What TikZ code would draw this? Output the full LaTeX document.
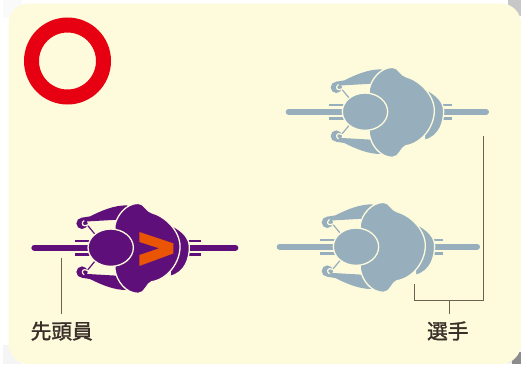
\documentclass[tikz,border=0pt]{standalone}
\usepackage{fontspec}
\newfontfamily\cjk[FakeBold=1.5]{Noto Sans CJK JP}
\definecolor{card}{HTML}{FEFBDC}
\definecolor{ringred}{HTML}{E60012}
\definecolor{ridp}{HTML}{5F0F7A}
\definecolor{ridg}{HTML}{97AEBC}
\definecolor{chev}{HTML}{E95504}
\definecolor{leader}{HTML}{6B6350}
\definecolor{txt}{HTML}{3A2E28}
\tikzset{
  leaderline/.style={draw=leader,line width=0.9pt},
  lbl/.style={font=\cjk\fontsize{20.7}{22}\selectfont,text=txt,inner sep=0pt},
  partw/.style={fill=#1,draw=card,line width=1.3pt,line join=round},
  rider/.pic={
    \begin{scope}[x=0.3333pt,y=-0.3333pt]
    \draw[line width=6pt,line cap=round,draw=\ridcol] (-229,0)--(\barR,0);
    \draw[line width=2.6pt,draw=\ridcol] (-107,-20)--(-60,-20) (-107,20)--(-60,20) (225,-20)--(\barS,-20) (225,20)--(\barS,20);
    % rear crescent
    \path[partw=\ridcol] (185,-66) .. controls (215,-50) and (236,-30) .. (236,-2) .. controls (236,30) and (225,75) .. (178,86) -- cycle;
    % hands, levers and arms
    \foreach \s in {-1,1}{
      \begin{scope}[yscale=\s]
      \draw[line width=1.2pt,draw=\ridcol] (-70,68)--(-47,40);
      \path[fill=\ridcol] (-86,73) circle [radius=17];
      \path[fill=\ridcol] (50,127) .. controls (10,128) and (-30,110) .. (-62,94) -- (-87,90) -- (-80,78) -- (-67,79) -- (20,84) -- (60,84) -- cycle;
      \draw[line width=1.2pt,draw=card,line cap=round] (-62,70) -- (-78,66) .. controls (-86,66) and (-88,76) .. (-80,81);
      \end{scope}}
    % torso
    \path[partw=\ridcol] (13,-68) .. controls (18,-95) and (45,-133) .. (83,-133) .. controls (100,-133) and (108,-108) .. (123,-105) .. controls (165,-93) and (208,-50) .. (208,-3) .. controls (208,45) and (170,95) .. (123,102) .. controls (108,106) and (103,137) .. (83,137) .. controls (45,137) and (18,100) .. (13,67) -- cycle;
    % head
    \path[partw=\ridcol] (0,0) ellipse [x radius=68,y radius=56];
    \end{scope}
  }
}
\begin{document}
\begin{tikzpicture}[x=1pt,y=-1pt]
\useasboundingbox (0,0) rectangle (521,364);
\begin{scope}
\clip (0,0) rectangle (521,364);
\fill[white] (0,0) rectangle (521,364);
\shade[inner color=black!50,outer color=white] (496,339) rectangle (521,364);
\fill[black!45] (512,352) rectangle (521,364);
\fill[black!22] (508,0) rectangle (521,16);
\fill[black!4] (3,345) rectangle (22,364);
\fill[black!2] (3,0) rectangle (22,18);
\fill[card,rounded corners=20pt] (8.5,3.5) rectangle (521,364);
\end{scope}
% ring
\node[circle,draw=ringred,line width=15pt,minimum size=72pt,inner sep=0pt] (ring) at (67.5,61) {};
% riders
\def\ridcol{ridg}\def\barR{363}\def\barS{262}
\pic (r1) at (365,111.7) {rider};
\pic (r2) at (356,246.7) {rider};
\def\ridcol{ridp}\def\barR{374}\def\barS{271}
\pic (r3) at (110.7,247.7) {rider};
\fill[chev] (139.3,232)--(173.3,243.3)--(173.3,253.5)--(139.3,266)--(139.3,255)--(159.3,248.3)--(139.3,242)--cycle;
% labels
\node[lbl] (lead) at (61.7,331) {先頭員};
\node[lbl] (rid) at (447.8,331) {選手};
% leaders
\coordinate (a) at (61.7,258);
\coordinate (b) at (414.5,284);
\coordinate (c) at (414.5,300);
\coordinate (d) at (483,300);
\coordinate (e) at (483,136);
\coordinate (f) at (449.5,300);
\coordinate (g) at (449.5,314);
\coordinate (h) at (61.7,314);
\draw[leaderline] (a)--(h);
\draw[leaderline] (b)--(c)--(d)--(e);
\draw[leaderline] (f)--(g);
\end{tikzpicture}
\end{document}
